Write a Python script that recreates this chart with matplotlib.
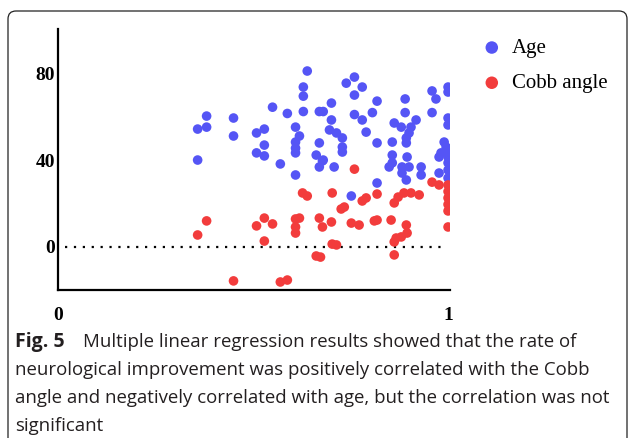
import matplotlib
matplotlib.use("Agg")
import matplotlib.pyplot as plt
from matplotlib.patches import FancyBboxPatch
from matplotlib.font_manager import FontProperties

# rate of neurological improvement vs age (blue)
age_x = [0.358, 0.358, 0.381, 0.381, 0.450, 0.450,
         0.509, 0.529, 0.529, 0.509, 0.529,
         0.550, 0.570, 0.588,
         0.639, 0.629, 0.629, 0.629,
         0.609, 0.619, 0.609, 0.609, 0.609, 0.609,
         0.670, 0.670, 0.662, 0.678, 0.670,
         0.680, 0.701, 0.701, 0.696, 0.714, 0.729, 0.729, 0.729, 0.708, 0.680,
         0.739, 0.760, 0.780, 0.760,
         0.760, 0.780, 0.806, 0.818,
         0.790, 0.818, 0.818, 0.752,
         0.857, 0.857, 0.857, 0.849,
         0.862, 0.880, 0.905, 0.890, 0.890, 0.918,
         0.900, 0.893, 0.893, 0.895, 0.900, 0.882, 0.882, 0.893,
         0.931, 0.931,
         0.959, 0.969, 1.0, 1.0, 0.959,
         1.0, 1.0, 0.990, 0.995, 1.0, 0.977, 1.0, 1.0, 0.982, 0.977, 1.0, 1.0]
age_y = [54.3, 40.0, 60.3, 55.2, 59.4, 51.1,
         52.5, 54.3, 46.9, 43.3, 41.9,
         64.4, 38.2, 61.5,
         81.1, 73.7, 69.5, 62.4,
         55.2, 51.1, 48.3, 45.5, 43.3, 33.1,
         62.4, 47.9, 42.3, 39.6, 36.8,
         62.4, 66.3, 58.5, 53.9, 52.5, 50.2, 46.0, 43.7, 36.8, 40.0,
         75.5, 78.3, 73.7, 70.0,
         61.0, 58.5, 61.9, 67.2,
         52.9, 47.9, 29.4, 23.4,
         48.3, 42.3, 38.7, 36.8,
         57.1, 55.2, 55.2, 61.9, 68.2, 58.5,
         52.5, 50.2, 47.9, 41.4, 36.8, 36.8, 34.0, 30.8,
         36.8, 33.1,
         71.9, 68.2, 73.7, 71.4, 61.9,
         59.4, 56.2, 48.3, 46.0, 41.4, 41.4, 38.7, 35.4, 43.3, 34.0, 31.7, 44.0]

# rate of neurological improvement vs Cobb angle (red)
cobb_x = [0.381, 0.358, 0.450, 0.529, 0.509, 0.550, 0.529,
          0.570, 0.588, 0.609, 0.619, 0.609, 0.609,
          0.627, 0.639, 0.670, 0.678, 0.701, 0.662, 0.673,
          0.703, 0.714, 0.703, 0.734, 0.726,
          0.752, 0.772, 0.780, 0.790, 0.818, 0.811, 0.818, 0.854,
          0.760, 0.862, 0.872, 0.887, 0.905, 0.926,
          0.959, 0.977, 1.0, 1.0, 1.0, 1.0, 1.0, 1.0,
          0.893, 0.895, 0.880, 0.867, 0.862, 0.862]
cobb_y = [11.9, 5.4, -15.8, 13.2, 9.6, 10.5, 2.6,
          -16.3, -15.4, 12.8, 13.2, 9.1, 6.3,
          24.8, 23.4, 13.2, 9.1, 11.4, -4.3, -4.8,
          24.8, 0.8, 1.2, 18.3, 17.4,
          10.9, 10.0, 21.1, 22.5, 24.3, 11.9, 12.3, 12.3,
          35.8, 20.2, 22.9, 24.8, 24.8, 23.9,
          29.8, 28.5, 28.5, 25.5, 22.5, 19.5, 16.5, 9.1,
          10.0, 6.3, 4.5, 4.0, 2.2, -3.8]

y_ticks = [0, 40, 80]
x_ticks = [0, 1]

caption_lines = [
    "Multiple linear regression results showed that the rate of",
    "neurological improvement was positively correlated with the Cobb",
    "angle and negatively correlated with age, but the correlation was not",
    "significant",
]

W, H = 629, 438
fig = plt.figure(figsize=(W / 100, H / 100), dpi=100)
ax = fig.add_axes([58 / W, 1 - 290 / H, (450 - 58) / W, (290 - 29) / H])

ax.hlines(0, 0.018, 0.983, colors="black", linewidth=1.6, linestyles=(0, (1, 3)), zorder=1)
ax.scatter(age_x, age_y, s=48, color="#5555F5", edgecolors="none", zorder=3, label="Age")
ax.scatter(cobb_x, cobb_y, s=48, color="#F23C3C", edgecolors="none", zorder=3, label="Cobb angle")

ax.set_xlim(0, 1.005)
ax.set_ylim(-20, 100.5)
ax.set_xticks(x_ticks)
ax.set_yticks(y_ticks)
ax.spines[["top", "right"]].set_visible(False)
for s in ["left", "bottom"]:
    ax.spines[s].set_linewidth(1.6)
ax.tick_params(axis="both", length=0)
ax.tick_params(axis="x", pad=12)
ax.tick_params(axis="y", pad=2)
for lab in ax.get_xticklabels() + ax.get_yticklabels():
    lab.set_fontfamily("Liberation Serif")
    lab.set_fontweight("bold")
    lab.set_fontsize(14)

leg_font = FontProperties(family="Liberation Serif", size=15)
fig.legend(loc="upper left", bbox_to_anchor=(472 / W, 1 - 28 / H), frameon=False,
           prop=leg_font, borderpad=0,
           handlelength=0.9, handletextpad=0.5, labelspacing=0.75,
           scatterpoints=1, markerscale=1.3)

# rounded frame around the figure panel
frame = FancyBboxPatch((0.08, -0.5), 6.19, 4.77, boxstyle="round,pad=0,rounding_size=0.08",
                       transform=fig.dpi_scale_trans, facecolor="none",
                       edgecolor="#222222", linewidth=0.9, clip_on=False)
fig.add_artist(frame)

cap_font = "Open Sans"
fig.text(15 / W, 1 - 347 / H, "Fig. 5", fontfamily=cap_font, fontweight="bold",
         fontsize=14, va="baseline", color="#231f20")
fig.text(83 / W, 1 - 347 / H, caption_lines[0], fontfamily=cap_font,
         fontsize=13.4, va="baseline", color="#231f20")
for i, line in enumerate(caption_lines[1:]):
    fig.text(15 / W, 1 - (375 + 28 * i) / H, line, fontfamily=cap_font,
             fontsize=13.4, va="baseline", color="#231f20")

fig.savefig("out.png", dpi=100)
